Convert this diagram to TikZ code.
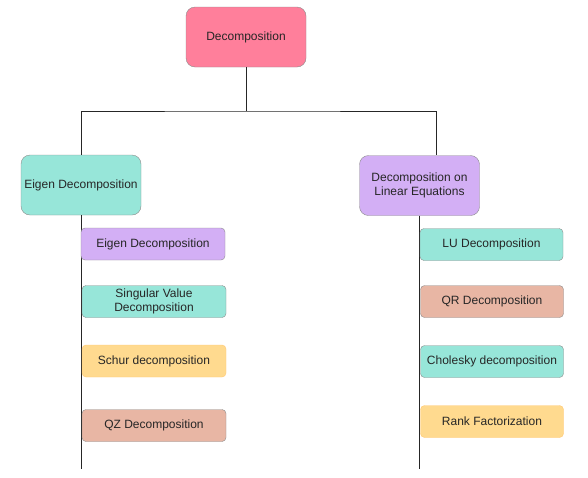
\documentclass[tikz,border=0pt]{standalone}
\usepackage{fontspec}
\setmainfont{Liberation Sans}
\usepackage{tikz}

\definecolor{rootpink}{HTML}{FF7F9B}
\definecolor{turq}{HTML}{97E6D9}
\definecolor{lilac}{HTML}{D3AFF5}
\definecolor{sand}{HTML}{FFDA8F}
\definecolor{salmon}{HTML}{E8B6A4}

\begin{document}
\begin{tikzpicture}[x=1pt, y=-1pt,
  box/.style={draw=black!45, rounded corners=9pt, minimum width=120pt, minimum height=60pt,
    inner sep=0pt, align=center, text=black!85, font=\fontsize{12}{14}\selectfont},
  leaf/.style={box, rounded corners=4pt, minimum width=144pt, minimum height=32pt}]
  \useasboundingbox (0, 0) rectangle (588, 477);

  \node[box, fill=rootpink] (root) at (246, 37) {Decomposition};
  \node[box, fill=turq] (eigen) at (81, 185) {Eigen Decomposition};
  \node[box, fill=lilac] (lineq) at (419.5, 185.5) {Decomposition on\\Linear Equations};

  \draw[black!85] (root.south) -- (246, 111);
  \draw[black!85] (eigen.north) |- (246, 111) -| ([xshift=17pt]lineq.north);

  \coordinate (eigenend) at (81, 469);
  \coordinate (lineqend) at (419, 469);
  \draw[black!85] (eigen.south) -- (eigenend);
  \draw[black!85] (lineq.south -| lineqend) -- (lineqend);

  \node[leaf, fill=lilac] (evd) at (153, 244) {Eigen Decomposition};
  \node[leaf, fill=turq] (svd) at (154, 301.5) {Singular Value\\Decomposition};
  \node[leaf, fill=sand, draw=sand!80!orange] (schur) at (154, 361) {Schur decomposition};
  \node[leaf, fill=salmon] (qz) at (154, 425.5) {QZ Decomposition};

  \node[leaf, fill=turq, minimum width=143pt] (lu) at (491.5, 244.5) {LU Decomposition};
  \node[leaf, fill=salmon, minimum width=143pt] (qr) at (492, 301.5) {QR Decomposition};
  \node[leaf, fill=turq, minimum width=143pt] (chol) at (492, 361.5) {Cholesky decomposition};
  \node[leaf, fill=sand, draw=sand!80!orange, minimum width=143pt] (rank) at (492, 421.5) {Rank Factorization};
\end{tikzpicture}
\end{document}
